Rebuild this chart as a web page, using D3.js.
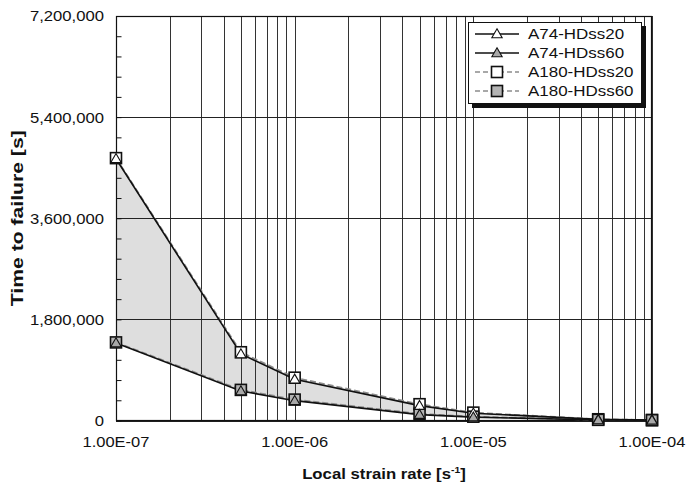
<!DOCTYPE html>
<html>
<head>
<meta charset="utf-8">
<script src="https://cdn.jsdelivr.net/npm/d3@7"></script>
<style>
  html, body { margin: 0; padding: 0; background: #fff; }
  text { font-family: "Liberation Sans", Arial, sans-serif; fill: #111; }
</style>
</head>
<body>
<svg id="chart" width="688" height="485"></svg>
<script>
// ---- data ----
const strainRates = [1e-7, 5e-7, 1e-6, 5e-6, 1e-5, 5e-5, 1e-4];
const a74ss20  = [4660000, 1185000, 734000, 265000, 130000, 20000, 8000];
const a74ss60  = [1381000,  526000, 353000, 105000,  60000, 10000, 4000];
const a180ss20 = [4670000, 1215000, 762000, 290000, 140000, 22000, 9000];
const a180ss60 = [1390000,  545000, 372000, 120000,  68000, 12000, 5000];
const seriesNames = ["A74-HDss20", "A74-HDss60", "A180-HDss20", "A180-HDss60"];
const yTickValues = [0, 1800000, 3600000, 5400000, 7200000];
const xTickValues = [1e-7, 1e-6, 1e-5, 1e-4];
const xTickLabels = ["1.00E-07", "1.00E-06", "1.00E-05", "1.00E-04"];

// ---- layout ----
const svg = d3.select("#chart");
const L = 116, T = 16, W = 536, H = 404.5;
const x = d3.scaleLog().domain([1e-7, 1e-4]).range([L, L + W]);
const y = d3.scaleLinear().domain([0, 7200000]).range([T + H, T]);

function hscale(sel, target) {
  sel.each(function () {
    const w = this.getBBox().width;
    const s = target / w;
    const ax = +this.getAttribute("x") || 0;
    const ay = +this.getAttribute("y") || 0;
    d3.select(this).attr("transform", `translate(${ax},${ay}) scale(${s},1) translate(${-ax},${-ay})`);
  });
}

// fill between upper and lower curves
const area = d3.area()
  .x((d, i) => x(strainRates[i]))
  .y0((d, i) => y(a74ss60[i]))
  .y1((d, i) => y(a180ss20[i]));
svg.append("path").datum(a180ss20).attr("d", area).attr("fill", "#dedede");

// vertical grid (log minor)
const vGrid = [];
for (let e = -7; e < -4; e++) for (let m = 1; m <= 9; m++) vGrid.push(m * Math.pow(10, e));
vGrid.push(1e-4);
svg.append("g").selectAll("line").data(vGrid).join("line")
  .attr("x1", d => Math.round(x(d)) + 0.5).attr("x2", d => Math.round(x(d)) + 0.5)
  .attr("y1", T).attr("y2", T + H)
  .attr("stroke", "#333").attr("stroke-width", 1);

// horizontal grid
svg.append("g").selectAll("line").data(yTickValues).join("line")
  .attr("x1", L).attr("x2", L + W)
  .attr("y1", d => Math.round(y(d)) + 0.5).attr("y2", d => Math.round(y(d)) + 0.5)
  .attr("stroke", "#222").attr("stroke-width", 1);

// plot border
svg.append("rect").attr("x", L + 0.5).attr("y", T + 0.5).attr("width", W - 1).attr("height", H - 0.5)
  .attr("fill", "none").attr("stroke", "#111").attr("stroke-width", 1.2);

// left axis with inner minor ticks
const yAxis = d3.axisLeft(y).tickValues(d3.range(0, 7200001, 360000)).tickSize(-5).tickFormat("");
const yg = svg.append("g").attr("transform", `translate(${L + 0.5},0)`).call(yAxis);
yg.select(".domain").remove();
yg.selectAll("line").attr("stroke", "#111");

// y tick labels
svg.append("g").selectAll("text").data(yTickValues).join("text")
  .attr("x", 104).attr("y", d => y(d)).attr("dy", "0.36em")
  .attr("text-anchor", "end").attr("font-size", 15)
  .attr("transform", "translate(104,0) scale(1.11,1) translate(-104,0)")
  .text(d => d3.format(",")(d));

// x tick labels
svg.append("g").selectAll("text").data(xTickValues).join("text")
  .attr("x", d => x(d)).attr("y", 447)
  .attr("text-anchor", "middle").attr("font-size", 15)
  .text((d, i) => xTickLabels[i])
  .each(function () {
    const ax = +this.getAttribute("x");
    d3.select(this).attr("transform", `translate(${ax},0) scale(1.1,1) translate(${-ax},0)`);
  });

// axis titles
const xt = svg.append("text").attr("x", L + W / 2).attr("y", 479)
  .attr("text-anchor", "middle").attr("font-size", 14.5).attr("font-weight", "bold");
xt.append("tspan").text("Local strain rate [s");
xt.append("tspan").attr("font-size", 9).attr("dy", -6).text("-1");
xt.append("tspan").attr("dy", 6).text("]");
hscale(xt, 164);

const ytg = svg.append("g").attr("transform", `translate(23,${T + H / 2}) rotate(-90)`);
const yt = ytg.append("text").attr("x", 0).attr("y", 0)
  .attr("text-anchor", "middle").attr("font-size", 16).attr("font-weight", "bold")
  .text("Time to failure [s]");
hscale(yt, 176);

// series
const series = [
  { name: seriesNames[2], vals: a180ss20, color: "#8c8c8c", dash: "6,3", shape: "square", fill: "#fff" },
  { name: seriesNames[3], vals: a180ss60, color: "#8c8c8c", dash: "6,3", shape: "square", fill: "#b4b4b4" },
  { name: seriesNames[0], vals: a74ss20, color: "#111", dash: null, shape: "triangle", fill: "#fff" },
  { name: seriesNames[1], vals: a74ss60, color: "#111", dash: null, shape: "triangle", fill: "#a8a8a8" }
];
const line = d3.line().x((d, i) => x(strainRates[i])).y(d => y(d));

function drawMarker(g, shape, cx, cy, fill) {
  if (shape === "square") {
    g.append("rect").attr("x", cx - 5.5).attr("y", cy - 5.5).attr("width", 11).attr("height", 11)
      .attr("fill", fill).attr("stroke", "#111").attr("stroke-width", 1.6);
  } else {
    g.append("path").attr("d", d3.symbol(d3.symbolTriangle, 46)()).attr("transform", `translate(${cx},${cy + 0.8})`)
      .attr("fill", fill).attr("stroke", "#111").attr("stroke-width", 1.1);
  }
}

series.forEach(s => {
  svg.append("path").datum(s.vals).attr("d", line).attr("fill", "none")
    .attr("stroke", s.color).attr("stroke-width", s.dash ? 1.8 : 1.6)
    .attr("stroke-dasharray", s.dash);
});
series.forEach(s => {
  const g = svg.append("g");
  s.vals.forEach((v, i) => drawMarker(g, s.shape, x(strainRates[i]), y(v), s.fill));
});

// legend
const lg = svg.append("g");
lg.append("rect").attr("x", 472).attr("y", 26).attr("width", 174).attr("height", 82).attr("fill", "#111");
lg.append("rect").attr("x", 468.5).attr("y", 22.5).attr("width", 173).attr("height", 81)
  .attr("fill", "#fff").attr("stroke", "#111").attr("stroke-width", 1);
const legOrder = [series[2], series[3], series[0], series[1]];
legOrder.forEach((s, i) => {
  const cy = 34 + i * 19;
  lg.append("line").attr("x1", 475).attr("x2", 519).attr("y1", cy).attr("y2", cy)
    .attr("stroke", s.color).attr("stroke-width", 1.6).attr("stroke-dasharray", s.dash ? "5,3" : null);
  drawMarker(lg, s.shape, 497, cy, s.fill);
  lg.append("text").attr("x", 528).attr("y", cy).attr("dy", "0.36em")
    .attr("font-size", 15)
    .attr("transform", "translate(528,0) scale(1.13,1) translate(-528,0)")
    .text(s.name);
});
</script>
</body>
</html>
